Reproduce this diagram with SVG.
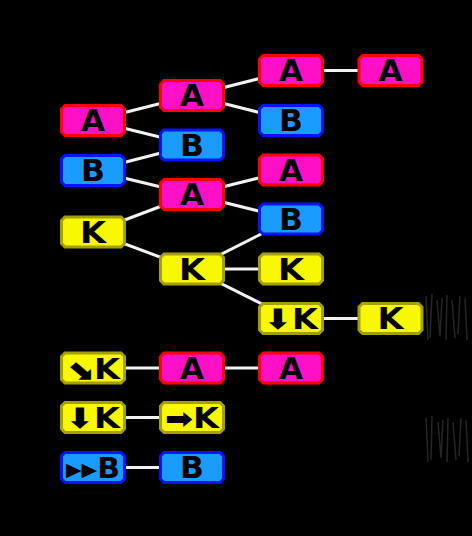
<svg xmlns="http://www.w3.org/2000/svg" width="472" height="536" viewBox="0 0 472 536">
<style>
.bg{fill:#000}
.ln{stroke:#f2f2f2;stroke-width:3;fill:none}
.red{fill:#ff10c4;stroke:#ff0000;stroke-width:3}
.blu{fill:#1a9cff;stroke:#0414ff;stroke-width:3}
.yel{fill:#f8f800;stroke:#a4a000;stroke-width:3}
.t{font-family:"DejaVu Sans",sans-serif;font-weight:bold;font-size:30px;fill:#000;text-anchor:middle}
.t2{font-family:"DejaVu Sans",sans-serif;font-weight:bold;font-size:28px;fill:#000;text-anchor:middle}
.sm{font-size:19px}
.nz{stroke:#262626;stroke-width:1.5;fill:none}
</style>
<defs>
<polygon id="box" points="-28,-15 28,-15 31.5,-11.5 31.5,11.5 28,15 -28,15 -31.5,11.5 -31.5,-11.5"/>
</defs>
<rect class="bg" x="0" y="0" width="472" height="536"/>
<g id="noise">
<path class="nz" d="M426,296 L428,340 M432,294 L430,338 M437,300 L440,336 L442,298 M447,295 L446,340 M452,300 L455,338 M460,296 L458,334 M465,298 L467,340"/>
<path class="nz" d="M426,418 L428,462 M432,416 L431,460 M438,422 L441,458 L443,420 M448,418 L447,462 M453,422 L456,460 M461,418 L459,456 M466,420 L468,462"/>
</g>
<g id="connectors">
<line class="ln" x1="93" y1="120.5" x2="192" y2="95.5"/>
<line class="ln" x1="93" y1="120.5" x2="192" y2="145"/>
<line class="ln" x1="93" y1="170.5" x2="192" y2="145"/>
<line class="ln" x1="93" y1="170.5" x2="192" y2="194.5"/>
<line class="ln" x1="93" y1="232" x2="192" y2="194.5"/>
<line class="ln" x1="93" y1="232" x2="192" y2="269"/>
<line class="ln" x1="192" y1="95.5" x2="291" y2="70.5"/>
<line class="ln" x1="192" y1="95.5" x2="291" y2="120.5"/>
<line class="ln" x1="192" y1="194.5" x2="291" y2="170"/>
<line class="ln" x1="192" y1="194.5" x2="291" y2="219"/>
<line class="ln" x1="192" y1="269" x2="291" y2="219"/>
<line class="ln" x1="192" y1="269" x2="291" y2="269"/>
<line class="ln" x1="192" y1="269" x2="291" y2="318.5"/>
<line class="ln" x1="291" y1="70.5" x2="390.5" y2="70.5"/>
<line class="ln" x1="291" y1="318.5" x2="390.5" y2="318.5"/>
<line class="ln" x1="93" y1="368" x2="291" y2="368"/>
<line class="ln" x1="93" y1="417.5" x2="192" y2="417.5"/>
<line class="ln" x1="93" y1="467.5" x2="192" y2="467.5"/>
</g>
<g id="n1a" transform="translate(93,120.5)"><use href="#box" class="red"/><text class="t" y="10.5" textLength="24" lengthAdjust="spacingAndGlyphs">A</text></g>
<g id="n1b" transform="translate(93,170.5)"><use href="#box" class="blu"/><text class="t" y="10.5" textLength="24" lengthAdjust="spacingAndGlyphs">B</text></g>
<g id="n1k" transform="translate(93,232)"><use href="#box" class="yel"/><text class="t" y="10.5" textLength="26" lengthAdjust="spacingAndGlyphs">K</text></g>
<g id="n2a1" transform="translate(192,95.5)"><use href="#box" class="red"/><text class="t" y="10.5" textLength="24" lengthAdjust="spacingAndGlyphs">A</text></g>
<g id="n2b" transform="translate(192,145)"><use href="#box" class="blu"/><text class="t" y="10.5" textLength="24" lengthAdjust="spacingAndGlyphs">B</text></g>
<g id="n2a2" transform="translate(192,194.5)"><use href="#box" class="red"/><text class="t" y="10.5" textLength="24" lengthAdjust="spacingAndGlyphs">A</text></g>
<g id="n2k" transform="translate(192,269)"><use href="#box" class="yel"/><text class="t" y="10.5" textLength="26" lengthAdjust="spacingAndGlyphs">K</text></g>
<g id="n3a1" transform="translate(291,70.5)"><use href="#box" class="red"/><text class="t" y="10.5" textLength="24" lengthAdjust="spacingAndGlyphs">A</text></g>
<g id="n3b1" transform="translate(291,120.5)"><use href="#box" class="blu"/><text class="t" y="10.5" textLength="24" lengthAdjust="spacingAndGlyphs">B</text></g>
<g id="n3a2" transform="translate(291,170)"><use href="#box" class="red"/><text class="t" y="10.5" textLength="24" lengthAdjust="spacingAndGlyphs">A</text></g>
<g id="n3b2" transform="translate(291,219)"><use href="#box" class="blu"/><text class="t" y="10.5" textLength="24" lengthAdjust="spacingAndGlyphs">B</text></g>
<g id="n3k" transform="translate(291,269)"><use href="#box" class="yel"/><text class="t" y="10.5" textLength="26" lengthAdjust="spacingAndGlyphs">K</text></g>
<g id="n3dk" transform="translate(291,318.5)"><use href="#box" class="yel"/><text class="t2" y="10.5" textLength="54" lengthAdjust="spacingAndGlyphs">⬇K</text></g>
<g id="n4a" transform="translate(390.5,70.5)"><use href="#box" class="red"/><text class="t" y="10.5" textLength="24" lengthAdjust="spacingAndGlyphs">A</text></g>
<g id="n4k" transform="translate(390.5,318.5)"><use href="#box" class="yel"/><text class="t" y="10.5" textLength="26" lengthAdjust="spacingAndGlyphs">K</text></g>
<g id="r1a" transform="translate(93,368)"><use href="#box" class="yel"/><text class="t2" y="10.5" textLength="54" lengthAdjust="spacingAndGlyphs">⬊K</text></g>
<g id="r1b" transform="translate(192,368)"><use href="#box" class="red"/><text class="t" y="10.5" textLength="24" lengthAdjust="spacingAndGlyphs">A</text></g>
<g id="r1c" transform="translate(291,368)"><use href="#box" class="red"/><text class="t" y="10.5" textLength="24" lengthAdjust="spacingAndGlyphs">A</text></g>
<g id="r2a" transform="translate(93,417.5)"><use href="#box" class="yel"/><text class="t2" y="10.5" textLength="54" lengthAdjust="spacingAndGlyphs">⬇K</text></g>
<g id="r2b" transform="translate(192,417.5)"><use href="#box" class="yel"/><text class="t2" y="10.5" textLength="54" lengthAdjust="spacingAndGlyphs">➡K</text></g>
<g id="r3a" transform="translate(93,467.5)"><use href="#box" class="blu"/><text class="t2" y="10.5" textLength="54" lengthAdjust="spacingAndGlyphs"><tspan class="sm" dy="-2">▶▶</tspan><tspan dy="2">B</tspan></text></g>
<g id="r3b" transform="translate(192,467.5)"><use href="#box" class="blu"/><text class="t" y="10.5" textLength="24" lengthAdjust="spacingAndGlyphs">B</text></g>
</svg>
